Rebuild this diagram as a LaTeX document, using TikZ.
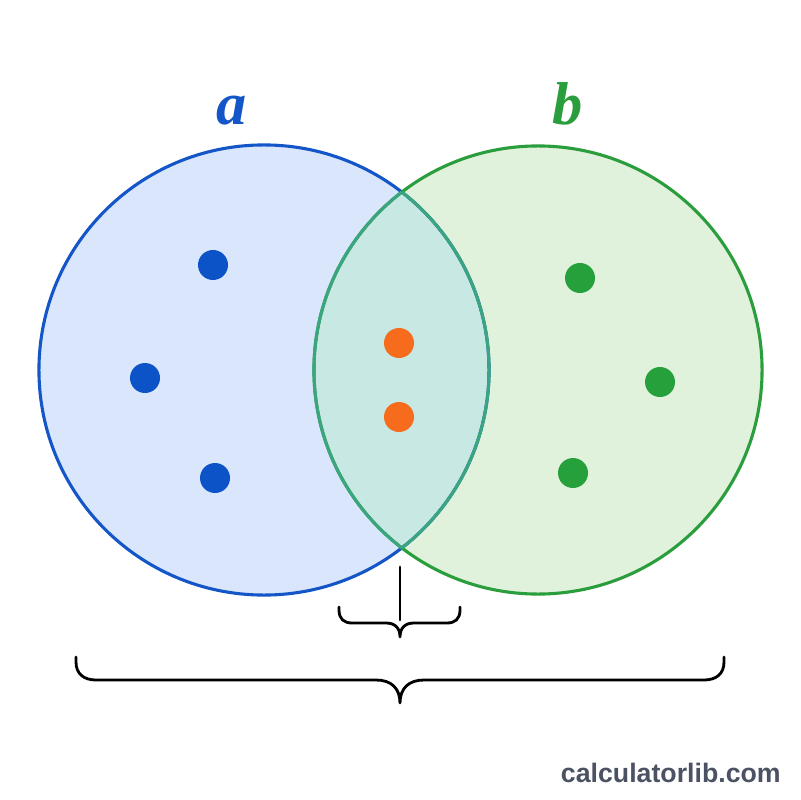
\documentclass[tikz,border=0pt]{standalone}
\usepackage{fontspec}
\setmainfont{Liberation Serif}
\newfontfamily\wmfont{Liberation Sans}
\definecolor{blueS}{HTML}{1456C8}
\definecolor{blueF}{HTML}{D9E6FB}
\definecolor{greenS}{HTML}{2A9E3C}
\definecolor{greenF}{HTML}{E0F1DC}
\definecolor{lensF}{HTML}{C8E8E3}
\definecolor{tealS}{HTML}{3AA57F}
\definecolor{blueD}{HTML}{0D53C8}
\definecolor{orangeD}{HTML}{F76B1C}
\definecolor{greenD}{HTML}{26A03A}
\definecolor{wmgray}{HTML}{4B5263}
\begin{document}
\begin{tikzpicture}[x=0.025cm,y=-0.025cm,
  setline/.style={line width=2.2pt},
  dotnode/.style={circle,inner sep=0pt,minimum size=0.75cm},
  bracepath/.style={line width=2pt,line cap=round,line join=round,black},
  setlabel/.style={font=\fontsize{43}{43}\selectfont\bfseries\itshape,anchor=base,inner sep=0pt}]
\useasboundingbox[fill=white] (0,0) rectangle (800,800);
\coordinate (cA) at (264,370);
\coordinate (cB) at (538,370);
\def\rA{5.625cm}
\def\rB{5.6cm}
% fills
\fill[blueF] (cA) circle[radius=\rA];
\fill[greenF] (cB) circle[radius=\rB];
\begin{scope}
  \clip (cA) circle[radius=\rA];
  \fill[lensF] (cB) circle[radius=\rB];
\end{scope}
% outlines
\draw[setline,blueS] (cA) circle[radius=\rA];
\draw[setline,greenS] (cB) circle[radius=\rB];
\begin{scope}
  \clip (cA) circle[radius=\rA];
  \draw[setline,tealS] (cB) circle[radius=\rB];
\end{scope}
\begin{scope}
  \clip (cB) circle[radius=\rB];
  \draw[setline,tealS] (cA) circle[radius=\rA];
\end{scope}
% labels
\node[setlabel,text=blueS] (la) at (232,125) {a};
\node[setlabel,text=greenS] (lb) at (568,125) {b};
% dots
\node[dotnode,fill=blueD] (a1) at (213,265) {};
\node[dotnode,fill=blueD] (a2) at (145,378) {};
\node[dotnode,fill=blueD] (a3) at (215,478) {};
\node[dotnode,fill=orangeD] (c1) at (399,343) {};
\node[dotnode,fill=orangeD] (c2) at (399,417) {};
\node[dotnode,fill=greenD] (b1) at (580,278) {};
\node[dotnode,fill=greenD] (b2) at (660,382) {};
\node[dotnode,fill=greenD] (b3) at (573,473) {};
% small brace and stem
\coordinate (stemtop) at (400,567);
\coordinate (stembot) at (400,620);
\draw[bracepath] (stemtop) -- (stembot);
\coordinate (sbL) at (339,607);
\coordinate (sbR) at (460,607);
\coordinate (sbTip) at (400,637);
\draw[bracepath] (sbL) -- (339,610) .. controls (339,619) and (344,623) .. (352,623)
  -- (386,623) .. controls (395,623) and (400,628) .. (sbTip)
  .. controls (400,628) and (405,623) .. (414,623)
  -- (447,623) .. controls (455,623) and (460,619) .. (460,610) -- (sbR);
% big brace
\coordinate (bbL) at (76,657);
\coordinate (bbR) at (724,657);
\coordinate (bbTip) at (400,703);
\draw[bracepath] (bbL) -- (76,662) .. controls (76,674) and (84,680) .. (96,680)
  -- (376,680) .. controls (391,680) and (400,688) .. (bbTip)
  .. controls (400,688) and (409,680) .. (424,680)
  -- (704,680) .. controls (716,680) and (724,674) .. (724,662) -- (bbR);
% watermark
\node[anchor=base east,inner sep=0pt,text=wmgray,font=\wmfont\bfseries\fontsize{19}{19}\selectfont] (wm) at (781,782) {calculatorlib.com};
\end{tikzpicture}
\end{document}
